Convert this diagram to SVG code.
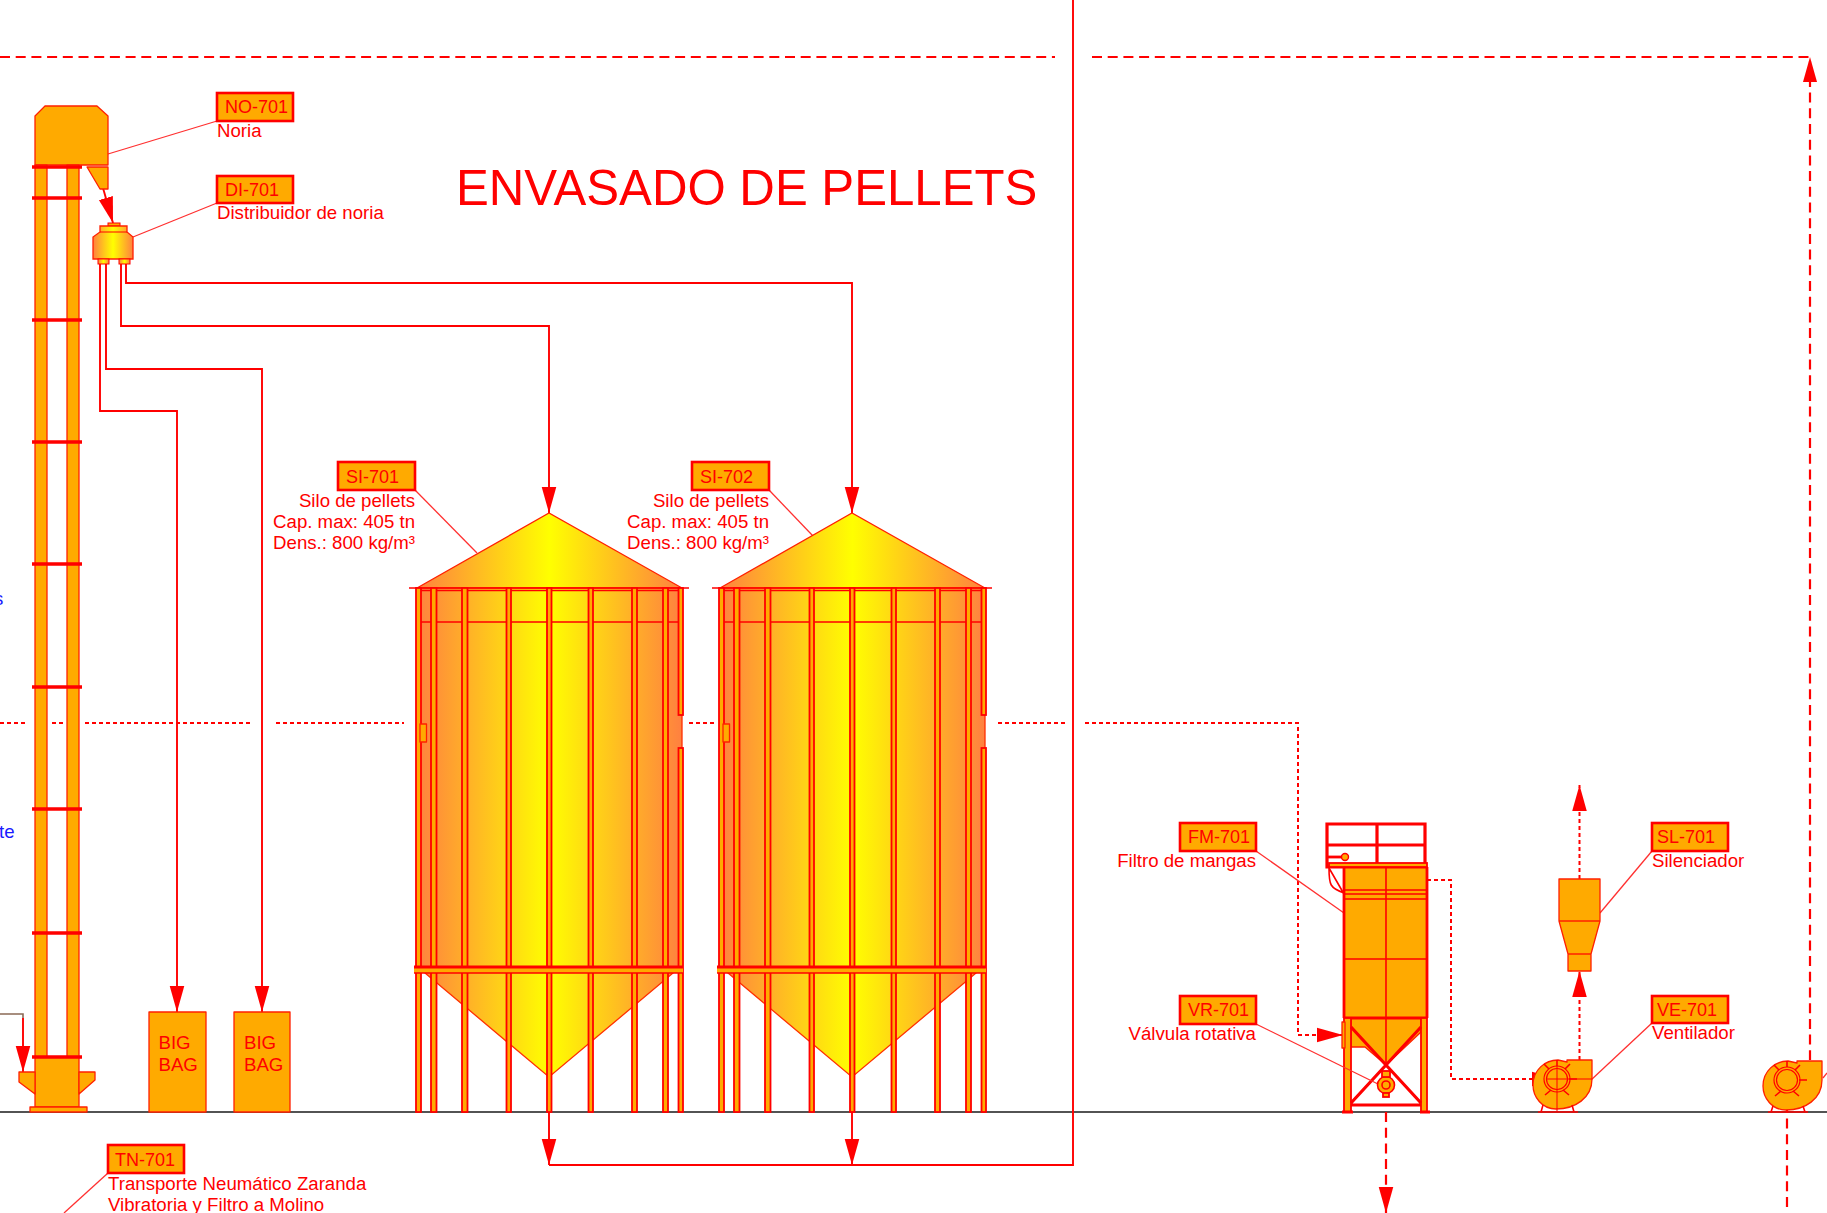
<svg xmlns="http://www.w3.org/2000/svg" xmlns:xlink="http://www.w3.org/1999/xlink" width="1827" height="1213" viewBox="0 0 1827 1213">
<style>
text{font-family:"Liberation Sans",Arial,sans-serif;font-size:18.650px;fill:#ff0000}
.title{font-size:49.200px}
.id{font-size:18px}
.end{text-anchor:end}
.blue{fill:#1a1aff}
.tag{fill:#ffaa00;stroke:#ff0000;stroke-width:2.6}
.lead{fill:none;stroke:#ff3030;stroke-width:1.3}
.eq{fill:#ffaa00;stroke:#ff2000;stroke-width:1.3;stroke-linejoin:round}
.ln{fill:none;stroke:#ff0000;stroke-width:1.6}
.thin{fill:none;stroke:#ff0000;stroke-width:1}
.pipe{fill:none;stroke:#ff0000;stroke-width:1.9}
.dash{fill:none;stroke:#ff0000;stroke-width:2.2;stroke-dasharray:10 5.7}
.dot{fill:none;stroke:#ff0000;stroke-width:2;stroke-dasharray:4 3}
.band{fill:none;stroke:#ff0000;stroke-width:3.4}
.stripe{fill:#ffaa00;stroke:#ff0000;stroke-width:1.8}
.heavy{fill:none;stroke:#ff0000;stroke-width:2.8}
.bold{fill:none;stroke:#ff0000;stroke-width:3.2}
.arr{marker-end:url(#ah)}
</style>
<defs>
<marker id="ah" markerUnits="userSpaceOnUse" markerWidth="26" markerHeight="16" viewBox="0 -7.5 25 15" refX="25" refY="0" orient="auto"><path d="M0,-7 L25,0 L0,7Z" fill="#ff0000"/></marker>
<linearGradient id="sg" gradientUnits="userSpaceOnUse" x1="417" y1="0" x2="682" y2="0">
<stop offset="0" stop-color="#ff8040"/><stop offset="0.5" stop-color="#ffff00"/><stop offset="1" stop-color="#ff8040"/>
</linearGradient>
<linearGradient id="dg" gradientUnits="objectBoundingBox" x1="0" y1="0" x2="1" y2="0">
<stop offset="0" stop-color="#ff8040"/><stop offset="0.5" stop-color="#ffff00"/><stop offset="1" stop-color="#ff8040"/>
</linearGradient>
<g id="siloShape">
<path d="M417,588 L549,513 L682,588Z" fill="url(#sg)" stroke="#ff2000" stroke-width="1.3"/>
<path d="M417,588 H682 V967 L673,973 L549,1077 L425,973 L417,967Z" fill="url(#sg)" stroke="#ff3000" stroke-width="1.3"/>
<path class="ln" d="M409,588 H689 M417,590.5 H682 M417,622 H682"/>
<rect class="stripe" x="416" y="588" width="5" height="524"/>
<rect class="stripe" x="431" y="588" width="5.500" height="524"/>
<rect class="stripe" x="462" y="588" width="5.500" height="524"/>
<rect class="stripe" x="506.500" y="588" width="4.500" height="524"/>
<rect class="stripe" x="547" y="588" width="4.500" height="524"/>
<rect class="stripe" x="588.500" y="588" width="4.500" height="524"/>
<rect class="stripe" x="632" y="588" width="5" height="524"/>
<rect class="stripe" x="663" y="588" width="5" height="524"/>
<rect class="stripe" x="678.500" y="588" width="4.500" height="127"/>
<rect class="stripe" x="678.500" y="748" width="4.500" height="364"/>
<rect class="eq" x="420" y="724" width="6.500" height="18"/>
<rect x="414" y="967" width="269" height="6" fill="#ffaa00"/>
<path class="heavy" d="M414,967 H683"/><path class="ln" d="M414,973 H683"/>
</g>
<g id="fanShape">
<path class="eq" d="M1567,1060 H1592 V1079 C1592,1098 1575,1109 1556,1109 C1542,1109 1533,1097 1533,1085 C1533,1070 1545,1060 1558,1060 L1567,1062Z"/>
<circle cx="1557" cy="1079" r="13" fill="none" stroke="#ff0000" stroke-width="1.2"/>
<circle cx="1557" cy="1079" r="10.500" fill="none" stroke="#ff0000" stroke-width="1.2"/>
<path class="ln" d="M1557,1060 V1066 M1569,1079 H1577 M1565,1069 L1570,1064 M1549,1069 L1544,1064 M1551,1090 L1545,1095 M1563,1090 L1569,1095"/>
</g>
</defs>
<path d="M0,1112 H1827" fill="none" stroke="#1a1a1a" stroke-width="1.4"/>
<g id="connectors">
<path class="dash" d="M0,57 H1055"/>
<path class="dash" d="M1092,57 H1810 V1060"/>
<path d="M1810,57 L1817,82 H1803Z" fill="#ff0000"/>
<path class="dot" d="M0,723 H28 M52,723 H64 M85,723 H250 M276,723 H404 M689,723 H716 M998,723 H1066"/>
<path class="dot arr" d="M1085,723 H1298 V1035 H1343"/>
<path class="dot arr" d="M1427,880 H1451 V1079 H1558"/>
<path class="dot arr" d="M1579.500,1060 V971"/>
<path class="dot arr" d="M1579.500,879 V785"/>
<path class="dash arr" d="M1386,1112 V1213"/>
<path class="dash arr" d="M1787,1207 V1080"/>
<path class="pipe arr" d="M100,264 V411 H177 V1012"/>
<path class="pipe arr" d="M106,264 V369 H262 V1012"/>
<path class="pipe arr" d="M121,264 V326 H549 V513"/>
<path class="pipe arr" d="M126,264 V283 H852 V513"/>
<path class="pipe" d="M1073,0 V1165 H549"/>
<path class="pipe arr" d="M549,1077 V1165"/>
<path class="pipe arr" d="M852,1077 V1165"/>
<path class="pipe arr" d="M103,188 L113,223"/>
<path d="M0,1014 H23 V1018" fill="none" stroke="#8a6a55" stroke-width="1.6"/>
<path class="pipe arr" d="M23,1018 V1072"/>
</g>
<text class="title" x="456" y="205">ENVASADO DE PELLETS</text>
<text class="blue" x="-6" y="605">s</text>
<text class="blue" x="-1" y="838">te</text>
<g id="NO-701">
<path class="lead" d="M217,121 L108,154"/>
<path class="eq" d="M35,116 L45,106 H97 L108,116 V165 H35Z"/>
<path class="eq" d="M87,167 H108 V189 H100Z"/>
<path class="eq" d="M35,165 H47 V1057 H35Z M67,165 H79 V1057 H67Z"/>
<path class="eq" d="M35,1057 H79 V1107 H35Z"/>
<path class="eq" d="M19,1072 H35 V1094 L19,1082Z M79,1072 H95 V1080 L79,1094Z"/>
<rect class="eq" x="30" y="1107" width="57" height="5"/>
<path class="band" d="M32,167 H82 M32,198 H82 M32,320 H82 M32,442 H82 M32,564 H82 M32,687 H82 M32,809 H82 M32,933 H82 M32,1057 H82"/>
<rect class="tag" x="217" y="93" width="76" height="28"/>
<text class="id" x="225" y="113">NO-701</text>
<text x="217" y="137">Noria</text>
</g>
<g id="DI-701">
<path class="lead" d="M217,203 L133,237"/>
<rect x="108" y="223" width="12" height="3" fill="#ffaa00" stroke="#ff0000"/>
<path d="M100,226 H127 V232 L133,237 V259 H93 V237 L100,232Z" fill="url(#dg)" stroke="#ff2000" stroke-width="1.3"/>
<path class="thin" d="M100,232 H127"/>
<rect x="98" y="259" width="11" height="5" fill="url(#dg)" stroke="#ff0000"/>
<rect x="119" y="259" width="11" height="5" fill="url(#dg)" stroke="#ff0000"/>
<rect class="tag" x="217" y="176" width="76" height="27"/>
<text class="id" x="225" y="196">DI-701</text>
<text x="217" y="219">Distribuidor de noria</text>
</g>
<g id="bigbag-1"><rect class="eq" x="149" y="1012" width="57" height="100"/><text x="158.500" y="1049">BIG</text><text x="158.500" y="1071">BAG</text></g>
<g id="bigbag-2"><rect class="eq" x="234" y="1012" width="56" height="100"/><text x="244" y="1049">BIG</text><text x="244" y="1071">BAG</text></g>
<g id="SI-701">
<path class="lead" d="M415,490 L477,553"/>
<use href="#siloShape" xlink:href="#siloShape"/>
<rect class="tag" x="338" y="462" width="77" height="28"/>
<text class="id" x="346" y="483">SI-701</text>
<text class="end" x="415" y="507">Silo de pellets</text>
<text class="end" x="415" y="528">Cap. max: 405 tn</text>
<text class="end" x="415" y="549">Dens.: 800 kg/m³</text>
</g>
<g id="SI-702">
<path class="lead" d="M769,490 L813,536"/>
<use href="#siloShape" xlink:href="#siloShape" transform="translate(303 0)"/>
<rect class="tag" x="692" y="462" width="77" height="28"/>
<text class="id" x="700" y="483">SI-702</text>
<text class="end" x="769" y="507">Silo de pellets</text>
<text class="end" x="769" y="528">Cap. max: 405 tn</text>
<text class="end" x="769" y="549">Dens.: 800 kg/m³</text>
</g>
<g id="FM-701">
<path class="lead" d="M1256,851 L1344,913"/>
<path class="eq" d="M1351,1018 H1421 V1032 L1386,1065 L1365,1047 H1351Z"/>
<rect class="eq" x="1344" y="867" width="83" height="151"/>
<path class="ln" d="M1344,890 H1427 M1344,894 H1427 M1344,899 H1427 M1344,959 H1427 M1386,867 V1065"/>
<path class="heavy" d="M1344,867 V1018 M1427,867 V1018 M1344,1018 H1427"/>
<rect class="stripe" x="1344" y="1018" width="7" height="94"/>
<rect class="stripe" x="1421" y="1018" width="6" height="94"/>
<rect class="eq" x="1342" y="1022" width="3" height="26"/>
<path class="bold" d="M1351,1027 L1421,1103 M1421,1027 L1351,1103 M1351,1105 H1421"/>
<path class="bold" d="M1342,1112 H1353 M1420,1112 H1430"/>
<path class="bold" d="M1327,824 H1425 V867 H1327Z M1327,845 H1425 M1377,824 V867"/>
<rect class="stripe" x="1329" y="863" width="98" height="4"/>
<path class="ln" d="M1329,868 C1329,885 1330,888 1344,893 M1329,868 L1344,894"/>
<path class="heavy" d="M1328,857 H1345"/>
<circle cx="1345" cy="857" r="3.500" fill="#ffaa00" stroke="#ff0000" stroke-width="1.4"/>
<rect class="tag" x="1180" y="823" width="76" height="28"/>
<text class="id" x="1188" y="843">FM-701</text>
<text class="end" x="1256" y="867">Filtro de mangas</text>
</g>
<g id="VR-701">
<path class="lead" d="M1256,1024 L1380,1085"/>
<circle cx="1386" cy="1085" r="8.500" fill="#ffaa00" stroke="#ff0000" stroke-width="1.6"/>
<circle cx="1386" cy="1085" r="4" fill="none" stroke="#ff0000" stroke-width="1.6"/>
<rect class="stripe" x="1382" y="1071" width="8" height="6"/>
<rect class="stripe" x="1383" y="1093" width="6" height="4"/>
<rect class="tag" x="1180" y="996" width="76" height="28"/>
<text class="id" x="1188" y="1016">VR-701</text>
<text class="end" x="1256" y="1040">Válvula rotativa</text>
</g>
<g id="SL-701">
<path class="lead" d="M1652,851 L1600,913"/>
<path class="eq" d="M1559,879 H1600 V921 H1559Z M1559,921 H1600 L1591,954 H1568Z M1568,954 H1591 V971 H1568Z"/>
<rect class="tag" x="1652" y="823" width="76" height="28"/>
<text class="id" x="1657" y="843">SL-701</text>
<text x="1652" y="867">Silenciador</text>
</g>
<g id="VE-701">
<path class="lead" d="M1652,1023 L1591,1080"/>
<use href="#fanShape" xlink:href="#fanShape"/>
<path class="thin" d="M1557,1066 V1112 M1546,1079 H1592"/>
<path class="ln" d="M1543,1105 L1541,1112 M1572,1105 L1574,1112 M1538,1112 H1578"/>
<rect class="tag" x="1652" y="996" width="76" height="27"/>
<text class="id" x="1657" y="1016">VE-701</text>
<text x="1652" y="1039">Ventilador</text>
</g>
<g id="fan-2">
<path class="lead" d="M1823,1078 L1827,1073"/>
<use href="#fanShape" xlink:href="#fanShape" transform="translate(230 1)"/>
<path class="ln" d="M1773,1106 L1771,1112 M1803,1106 L1805,1112 M1768,1112 H1808"/>
</g>
<g id="TN-701">
<path class="lead" d="M108,1173 L64,1213"/>
<rect class="tag" x="108" y="1145" width="76" height="28"/>
<text class="id" x="115" y="1166">TN-701</text>
<text x="108" y="1190">Transporte Neumático Zaranda</text>
<text x="108" y="1211">Vibratoria y Filtro a Molino</text>
</g>
</svg>
